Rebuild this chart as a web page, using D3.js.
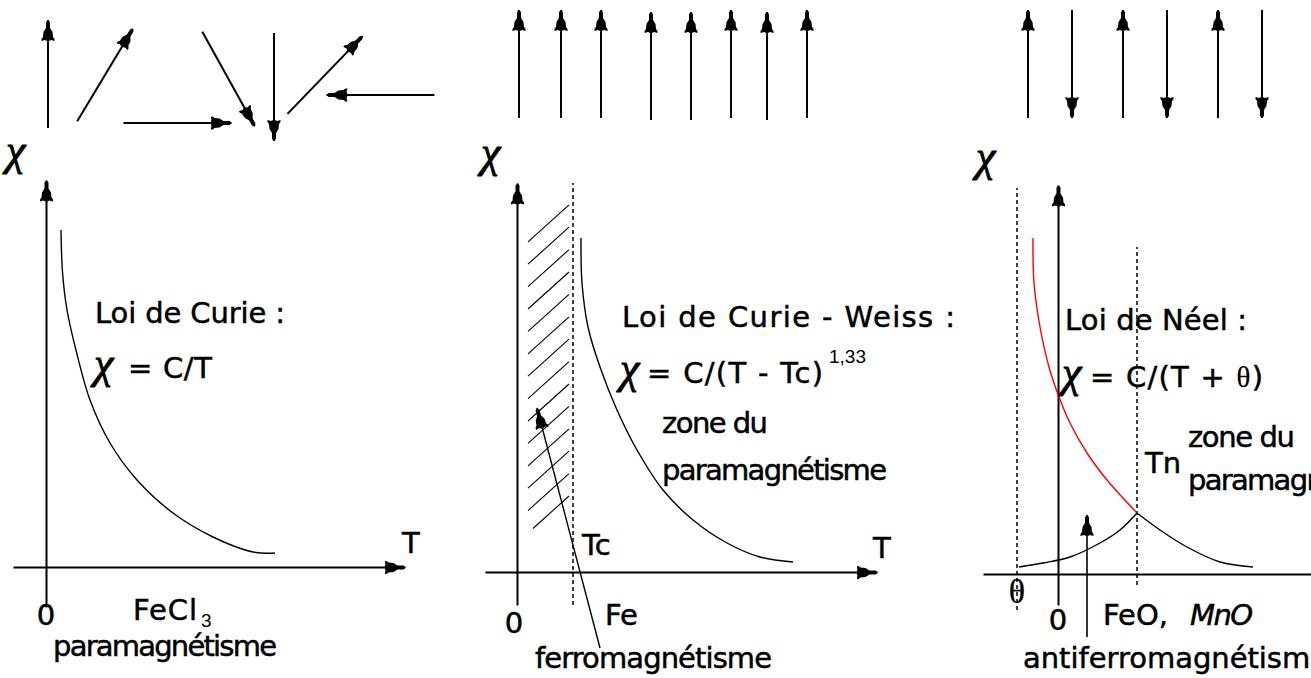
<!DOCTYPE html>
<html>
<head>
<meta charset="utf-8">
<script src="https://cdn.jsdelivr.net/npm/d3@7"></script>
<style>
  html, body { margin: 0; padding: 0; background: #fff; }
  svg { display: block; }
</style>
</head>
<body>
<svg id="chart" width="1311" height="678"></svg>
<script>
// ---------------------------------------------------------------
// Magnetic susceptibility χ(T): paramagnet, ferromagnet, antiferromagnet
// Values in arbitrary units (T along the axis, χ upward).
// ---------------------------------------------------------------

// Paramagnet (FeCl3) — Curie law
const paraT   = [1.5, 1.65, 2.1, 3.07, 4.4, 6.4, 9.1, 12.7, 16.7, 20.7, 22.9];
const paraChi = [33.7, 29.5, 25.7, 21.4, 16.7, 12.4, 8.7, 5.4, 3.0, 1.5, 1.4];

// Ferromagnet (Fe) — Curie-Weiss branch above Tc
const ferroT   = [6.4, 6.5, 7.1, 8.3, 10.0, 12.0, 14.6, 17.6, 21.0, 24.3, 27.6];
const ferroChi = [33.4, 28.9, 24.5, 20.5, 16.2, 12.2, 8.2, 5.2, 2.9, 1.5, 1.0];
const ferroTc  = 5.6;

// Antiferromagnet (FeO, MnO) — Néel law, extrapolated branch (red)
const neelT   = [-2.5, -2.4, -1.8, -0.9, 0.1, 1.2, 2.9, 4.9, 7.9];
const neelChi = [33.6, 29.1, 24.7, 20.7, 17.7, 15.1, 12.1, 9.4, 6.1];
// measured branch above Tn
const afParaT   = [7.9, 10.2, 12.9, 16.2, 19.5];
const afParaChi = [6.1, 4.4, 2.7, 1.2, 0.7];
// ordered branch below Tn
const afOrderT   = [-3.9, -1.5, 1.2, 4.2, 6.2, 7.9];
const afOrderChi = [0.7, 1.1, 1.7, 3.1, 4.4, 6.1];
const neelTn    = 7.9;
const neelTheta = -4.1;

// Spin pictures above each graph: site position (T, χ units) and direction (deg, 0 = up)
const paraSpinT     = [0.2, 5.9, 13.15, 18.25, 22.8, 27.9, 33.45];
const paraSpinChi   = [49.3, 49.2, 44.4, 48.8, 48.0, 49.2, 47.2];
const paraSpinAngle = [0, 31, 90, 151, 180, 44, 270];

const ferroSpinT     = [0.2, 4.4, 8.4, 13.4, 17.4, 21.4, 25.0, 29.0];
const ferroSpinChi   = [50.8, 50.8, 50.8, 50.6, 50.6, 50.8, 50.6, 50.8];
const ferroSpinAngle = [0, 0, 0, 0, 0, 0, 0, 0];

const afSpinT     = [-3.0, 1.4, 6.5, 10.9, 16.0, 20.4];
const afSpinChi   = [51.0, 51.0, 51.0, 51.0, 51.0, 51.0];
const afSpinAngle = [0, 180, 0, 180, 0, 180];

// ---------------------------------------------------------------
const MAIN_FONT = "'DejaVu Sans', sans-serif";
const SYM_FONT  = "'Liberation Serif', 'DejaVu Serif', serif";
const NUM_FONT  = "'Liberation Sans', Arial, sans-serif";
const UNIT = 10;          // pixels per unit on both axes
const SPIN_LEN = 108;     // arrow length of a spin, px

const svg = d3.select("#chart");
const defs = svg.append("defs");

// Filled arrow head used on axes, spins and pointers
defs.append("marker")
  .attr("id", "head")
  .attr("markerUnits", "userSpaceOnUse")
  .attr("viewBox", "0 -7 22 14")
  .attr("markerWidth", 22)
  .attr("markerHeight", 14)
  .attr("refX", 21)
  .attr("refY", 0)
  .attr("orient", "auto")
  .append("path")
  .attr("d", "M21,0 L19,-2 L13,-2 L9,-4.5 L4,-5 L2,-6.5 L0,-6.5 L1,-3 L0,-1 L0,1 L1,3 L0,6.5 L2,6.5 L4,5 L9,4.5 L13,2 L19,2 Z")
  .attr("fill", "#000");

function makePanel(ox, oy, tExt, chiExt) {
  const x = d3.scaleLinear().domain(tExt).range(tExt.map(v => ox + v * UNIT));
  const y = d3.scaleLinear().domain(chiExt).range(chiExt.map(v => oy - v * UNIT));
  const g = svg.append("g");

  const ax = g.append("g").attr("transform", `translate(0,${oy})`)
    .call(d3.axisBottom(x).tickValues([]).tickSizeOuter(0));
  const ay = g.append("g").attr("transform", `translate(${ox},0)`)
    .call(d3.axisLeft(y).tickValues([]).tickSizeOuter(0));
  [ax, ay].forEach(a => a.select(".domain")
    .attr("stroke", "#000").attr("stroke-width", 2)
    .attr("marker-end", "url(#head)"));
  return { g, x, y };
}

function curve(p, ts, cs, color) {
  const line = d3.line()
    .x((d, i) => p.x(ts[i]))
    .y((d, i) => p.y(cs[i]))
    .curve(d3.curveCatmullRom.alpha(0.5));
  p.g.append("path").datum(ts).attr("d", line)
    .attr("fill", "none").attr("stroke", color || "#000").attr("stroke-width", 1.4);
}

function dashed(p, t, c0, c1) {
  p.g.append("line")
    .attr("x1", p.x(t)).attr("x2", p.x(t))
    .attr("y1", p.y(c0)).attr("y2", p.y(c1))
    .attr("stroke", "#000").attr("stroke-width", 1.5)
    .attr("stroke-dasharray", "4,3");
}

function arrow(p, t0, c0, t1, c1, w) {
  p.g.append("line")
    .attr("x1", p.x(t0)).attr("y1", p.y(c0))
    .attr("x2", p.x(t1)).attr("y2", p.y(c1))
    .attr("stroke", "#000").attr("stroke-width", w || 1.6)
    .attr("marker-end", "url(#head)");
}

function spins(p, ts, cs, angles) {
  p.g.selectAll(null).data(ts).join("line")
    .each(function (d, i) {
      const a = angles[i] * Math.PI / 180;
      const cx = p.x(ts[i]), cy = p.y(cs[i]);
      const dx = Math.sin(a) * SPIN_LEN / 2, dy = -Math.cos(a) * SPIN_LEN / 2;
      d3.select(this)
        .attr("x1", cx - dx).attr("y1", cy - dy)
        .attr("x2", cx + dx).attr("y2", cy + dy);
    })
    .attr("stroke", "#000").attr("stroke-width", 2)
    .attr("marker-end", "url(#head)");
}

function label(g, str, x, y, o = {}) {
  const t = g.append("text")
    .attr("x", x).attr("y", y)
    .attr("font-family", o.family || MAIN_FONT)
    .attr("font-size", o.size || 29)
    .attr("font-style", o.style || null)
    .attr("text-anchor", o.anchor || "start")
    .attr("fill", "#000")
    .attr("stroke", o.thin ? null : "#000")
    .attr("stroke-width", o.thin ? null : (o.sw || 0.5))
    .text(str);
  if (o.width) t.attr("textLength", o.width);
  return t;
}
function chi(g, x, y) {
  return label(g, "χ", x, y, { family: SYM_FONT, size: 44, style: "italic", sw: 0.9 });
}

// ---------------- Panel 1 : paramagnetism ----------------
const p1 = makePanel(46, 567, [-3.3, 35.9], [-4.0, 38.7]);
spins(p1, paraSpinT, paraSpinChi, paraSpinAngle);
curve(p1, paraT, paraChi);
chi(p1.g, 6, 165);
label(p1.g, "T", 402, 553);
label(p1.g, "0", p1.x(0), 625, { anchor: "middle" });
label(p1.g, "Loi de Curie :", 95, 323, { width: 190 });
chi(p1.g, 94, 378);
label(p1.g, "= C/T", 128, 378, { width: 84 });
label(p1.g, "FeCl", 133, 620, { width: 64 });
label(p1.g, "3", 201, 627, { family: NUM_FONT, size: 19, thin: true });
label(p1.g, "paramagnétisme", 53, 656, { width: 224 });

// ---------------- Panel 2 : ferromagnetism ----------------
const p2 = makePanel(517, 572, [-3.2, 36.0], [-3.3, 38.9]);
spins(p2, ferroSpinT, ferroSpinChi, ferroSpinAngle);

// hatched ordered region below Tc
const hatchT0 = 1.1, hatchT1 = 5.2;
d3.range(14).forEach(i => {
  const c0 = 3.9 + i * 2.24;
  const t0 = i === 0 ? 1.6 : hatchT0;
  p2.g.append("line")
    .attr("x1", p2.x(t0)).attr("y1", p2.y(c0 + (t0 - hatchT0) * 0.9))
    .attr("x2", p2.x(hatchT1)).attr("y2", p2.y(c0 + 3.7))
    .attr("stroke", "#000").attr("stroke-width", 1.1);
});
dashed(p2, ferroTc, -3.3, 38.9);
curve(p2, ferroT, ferroChi);
arrow(p2, 8.3, -7.6, 2.0, 16.4, 1.4);
chi(p2.g, 481, 167);
label(p2.g, "T", 873, 558);
label(p2.g, "Tc", p2.x(ferroTc) + 9, 555);
label(p2.g, "0", 514, 633, { anchor: "middle" });
label(p2.g, "Fe", 605, 625);
label(p2.g, "ferromagnétisme", 535, 668, { width: 237 });
label(p2.g, "Loi de Curie - Weiss :", 622, 327, { width: 333 });
chi(p2.g, 620, 383);
label(p2.g, "= C/(T - Tc)", 647, 383, { width: 176 });
label(p2.g, "1,33", 829, 363, { family: NUM_FONT, size: 19, thin: true });
label(p2.g, "zone du", 662, 433, { width: 106 });
label(p2.g, "paramagnétisme", 662, 480, { width: 225 });

// ---------------- Panel 3 : antiferromagnetism ----------------
const p3 = makePanel(1058, 574, [-7.5, 27.5], [-3.1, 38.9]);
spins(p3, afSpinT, afSpinChi, afSpinAngle);
dashed(p3, neelTheta, -3.6, 38.6);
dashed(p3, neelTn, -1.1, 32.7);
curve(p3, neelT, neelChi, "#ff0000");
curve(p3, afParaT, afParaChi);
curve(p3, afOrderT, afOrderChi);
arrow(p3, 2.9, -6.3, 2.9, 5.9, 1.6);
chi(p3.g, 976, 171);
label(p3.g, "θ", p3.x(neelTheta), 603, { family: SYM_FONT, size: 34, anchor: "middle", sw: 0.3 });
label(p3.g, "0", p3.x(0), 630, { anchor: "middle" });
label(p3.g, "Tn", p3.x(neelTn) + 8, 473);
label(p3.g, "Loi de Néel :", 1065, 330, { width: 182 });
chi(p3.g, 1062, 387);
const f3 = label(p3.g, "= C/(T + ", 1090, 387);
f3.append("tspan").attr("font-family", SYM_FONT).attr("stroke-width", 0.2).text("θ");
f3.append("tspan").text(")");
f3.attr("textLength", 173);
label(p3.g, "zone du", 1188, 447, { width: 107 });
label(p3.g, "paramagnétisme", 1188, 490, { width: 225 });
label(p3.g, "FeO,", 1103, 625, { width: 65 });
label(p3.g, "MnO", 1190, 625, { style: "italic", width: 63 });
label(p3.g, "antiferromagnétisme", 1023, 668, { width: 305 });
</script>
</body>
</html>
